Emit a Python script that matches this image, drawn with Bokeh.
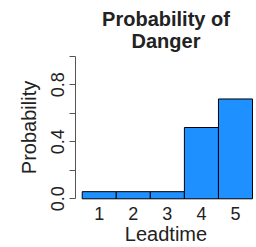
from bokeh.plotting import figure
from bokeh.models import FixedTicker, PrintfTickFormatter, Range1d, Title
from bokeh.embed import file_html
from bokeh.resources import INLINE

leadtime = [1, 2, 3, 4, 5]
probability = [0.05, 0.05, 0.05, 0.50, 0.70]
y_ticks = [0.0, 0.4, 0.8]
y_minor_ticks = [0.2, 0.6, 1.0]
title_lines = ["Probability of", "Danger"]

p = figure(width=256, height=247, output_backend="svg", toolbar_location=None,
           x_range=Range1d(0.303, 5.617), y_range=Range1d(-0.04, 1.04),
           min_border_left=75, min_border_right=0, min_border_top=50, min_border_bottom=43,
           title_location=None)

p.vbar(x=leadtime, top=probability, bottom=0, width=1.0,
       fill_color="#1E90FF", line_color="black", line_width=1)

p.outline_line_color = None
p.xgrid.visible = False
p.ygrid.visible = False
p.background_fill_color = "white"
p.border_fill_color = "white"

for i, line in enumerate(reversed(title_lines)):
    t = Title(text=line, align="center", text_font="Liberation Sans",
              text_font_size="20px", text_font_style="bold", text_color="#222222",
              standoff=(-3 if i == 0 else 0))
    p.add_layout(t, "above")

# y axis
ya = p.yaxis[0]
ya.ticker = FixedTicker(ticks=y_ticks, minor_ticks=y_minor_ticks)
ya.formatter = PrintfTickFormatter(format="%.1f")
ya.bounds = (0, 1)
ya.axis_line_color = "#555555"
ya.major_tick_line_color = "#555555"
ya.minor_tick_line_color = "#555555"
ya.major_tick_out = 6
ya.major_tick_in = 0
ya.minor_tick_out = 6
ya.minor_tick_in = 0
ya.major_label_orientation = "vertical"
ya.major_label_standoff = 5
ya.major_label_text_font = "Liberation Sans"
ya.major_label_text_font_size = "18px"
ya.major_label_text_color = "#222222"
ya.axis_label = "Probability"
ya.axis_label_text_font = "Liberation Sans"
ya.axis_label_text_font_size = "20px"
ya.axis_label_text_font_style = "normal"
ya.axis_label_text_color = "#222222"
ya.axis_label_standoff = 9

# x axis
xa = p.xaxis[0]
xa.ticker = FixedTicker(ticks=leadtime, minor_ticks=[])
xa.axis_line_color = None
xa.major_tick_line_color = None
xa.minor_tick_line_color = None
xa.major_tick_out = 0
xa.major_tick_in = 0
xa.major_label_standoff = 2
xa.major_label_text_font = "Liberation Sans"
xa.major_label_text_font_size = "18px"
xa.major_label_text_color = "#222222"
xa.axis_label = "Leadtime"
xa.axis_label_text_font = "Liberation Sans"
xa.axis_label_text_font_size = "20px"
xa.axis_label_text_font_style = "normal"
xa.axis_label_text_color = "#222222"
xa.axis_label_standoff = 0

open("out.html", "w").write(file_html(p, INLINE))
